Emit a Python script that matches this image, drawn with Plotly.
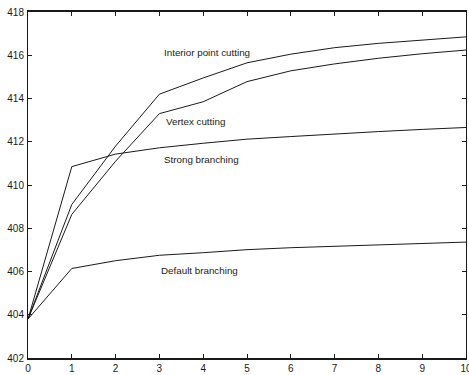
import plotly.graph_objects as go

x_vals = [0, 1, 2, 3, 4, 5, 6, 7, 8, 9, 10]
interior_point_cutting = [403.8, 409.1, 411.8, 414.2, 414.95, 415.65, 416.05, 416.35, 416.55, 416.7, 416.85]
vertex_cutting = [403.8, 408.64, 411.1, 413.3, 413.85, 414.78, 415.28, 415.6, 415.86, 416.07, 416.24]
strong_branching = [403.8, 410.85, 411.43, 411.72, 411.93, 412.12, 412.24, 412.37, 412.47, 412.57, 412.66]
default_branching = [403.8, 406.14, 406.5, 406.75, 406.87, 407.01, 407.1, 407.17, 407.24, 407.3, 407.36]

labels = ["Interior point cutting", "Vertex cutting", "Strong branching", "Default branching"]
label_x = [3.05, 3.1, 3.05, 3.0]
label_y = [416.12, 412.92, 411.16, 406.05]

fig = go.Figure()
for name, ys in zip(labels, [interior_point_cutting, vertex_cutting, strong_branching, default_branching]):
    fig.add_trace(go.Scatter(x=x_vals, y=ys, mode="lines", name=name,
                             line=dict(color="#1a1a1a", width=1), showlegend=False))

for t, lx, ly in zip(labels, label_x, label_y):
    fig.add_annotation(x=lx, y=ly, text=t, showarrow=False, xanchor="left", yanchor="middle",
                       font=dict(size=9.8, color="#1a1a1a", family="Liberation Sans, Arial, sans-serif"))

fig.update_layout(
    width=469, height=375,
    margin=dict(l=28, r=3, t=12, b=17, autoexpand=False),
    plot_bgcolor="white", paper_bgcolor="white",
    font=dict(family="Liberation Sans, Arial, sans-serif", size=10, color="#1a1a1a"),
)
fig.update_xaxes(range=[0, 10], tickvals=x_vals, ticks="inside", ticklen=4, tickcolor="#1a1a1a",
                 showline=True, linecolor="#1a1a1a", linewidth=1.5, mirror="ticks",
                 showgrid=False, zeroline=False, tickfont=dict(size=10), automargin=False,
                 ticklabelstandoff=0, ticklabeloverflow="allow")
fig.update_yaxes(range=[402, 418], tickvals=list(range(402, 419, 2)), ticks="inside", ticklen=4,
                 tickcolor="#1a1a1a", showline=True, linecolor="#1a1a1a", linewidth=1, mirror="ticks",
                 showgrid=False, zeroline=False, tickfont=dict(size=10), automargin=False,
                 ticklabelstandoff=1, ticklabeloverflow="allow")

fig.write_html("out.html", config={"displayModeBar": False},
               post_script="document.body.style.margin='0';document.body.style.overflow='hidden';")
